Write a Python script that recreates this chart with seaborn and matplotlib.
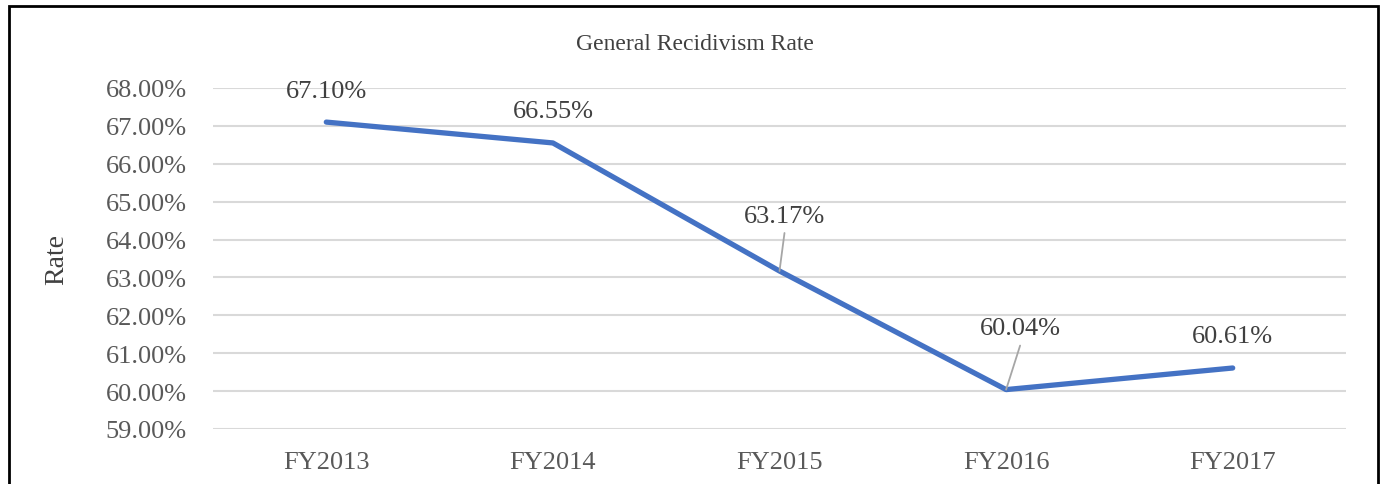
import pandas as pd
import matplotlib
matplotlib.use('Agg')
import matplotlib.pyplot as plt
import seaborn as sns
from matplotlib.patches import Rectangle

years = ['FY2013', 'FY2014', 'FY2015', 'FY2016', 'FY2017']
rates = [67.10, 66.55, 63.17, 60.04, 60.61]
label_text = ['67.10%', '66.55%', '63.17%', '60.04%', '60.61%']

df = pd.DataFrame({'Year': years, 'Rate': rates})

sns.set_style('white')
plt.rcParams['font.family'] = ['Liberation Serif', 'DejaVu Serif']

fig = plt.figure(figsize=(13.82, 4.85), dpi=100)
ax = fig.add_axes([213 / 1382, 1 - 430 / 485, 1133 / 1382, 341 / 485])

sns.lineplot(data=df, x='Year', y='Rate', ax=ax, color='#4472C4',
             linewidth=3.8, sort=False, solid_capstyle='round')

ax.set_xlim(-0.5, 4.5)
ax.set_ylim(59, 68)
ax.set_yticks(range(59, 69))
ax.set_yticklabels([f'{v:.2f}%' for v in range(59, 69)])
ax.grid(axis='y', color='#D9D9D9', linewidth=1.5)
ax.set_axisbelow(True)
for s in ax.spines.values():
    s.set_visible(False)
ax.tick_params(axis='both', length=0, labelsize=19, colors='#595959')
ax.tick_params(axis='y', pad=19)
ax.tick_params(axis='x', pad=16)
ax.set_xlabel('')
ax.set_ylabel('Rate', fontsize=20, color='#404040')
ax.yaxis.set_label_coords(-0.127, 0.5)

# data labels (pixel offsets from the point)
offsets = [(0, 31), (0, 32), (5, 55), (14, 62), (0, 32)]
for i, (lab, off) in enumerate(zip(label_text, offsets)):
    ax.annotate(lab, xy=(i, rates[i]), xytext=off, textcoords='offset pixels',
                ha='center', va='center', fontsize=19, color='#404040')

# leader lines for the two labels that sit away from the line
ax.annotate('', xy=(2, rates[2]), xytext=(5, 38), textcoords='offset pixels',
            arrowprops=dict(arrowstyle='-', color='#A6A6A6', lw=1.3,
                            shrinkA=0, shrinkB=0))
ax.annotate('', xy=(3, rates[3]), xytext=(14, 44), textcoords='offset pixels',
            arrowprops=dict(arrowstyle='-', color='#A6A6A6', lw=1.3,
                            shrinkA=0, shrinkB=0))

fig.text(695 / 1382, 1 - 44 / 485, 'General Recidivism Rate', ha='center',
         va='center', fontsize=17, color='#404040')

fig.patches.append(Rectangle((9 / 1382, -0.1), 1369 / 1382, 1.1 - 7 / 485,
                             transform=fig.transFigure, fill=False,
                             edgecolor='black', linewidth=2))

fig.savefig('out.png', dpi=100)
